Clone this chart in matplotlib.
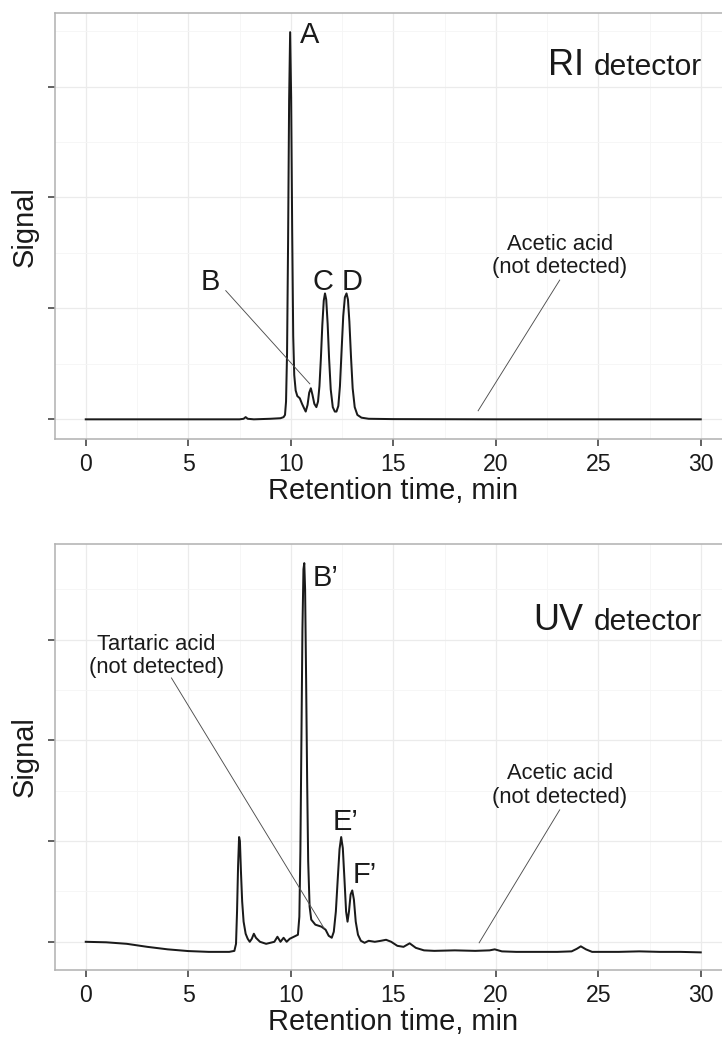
import matplotlib
matplotlib.use('Agg')
import matplotlib.pyplot as plt
from matplotlib.ticker import MultipleLocator
from matplotlib.transforms import blended_transform_factory, IdentityTransform

plt.rcParams['font.family'] = ['Liberation Sans', 'DejaVu Sans']

# RI detector trace (retention time in min, signal in arbitrary units)
ri_time = [0, 7.5, 7.7, 7.8, 7.9, 8.2, 9.0, 9.5, 9.65, 9.72, 9.77, 9.82, 9.87, 9.92, 9.97,
           10.02, 10.07, 10.12, 10.17, 10.24, 10.32, 10.44, 10.55, 10.65, 10.73, 10.82, 10.9,
           10.98, 11.06, 11.15, 11.25, 11.33, 11.4, 11.47, 11.54, 11.61, 11.67, 11.73, 11.8,
           11.87, 11.95, 12.05, 12.15, 12.23, 12.32, 12.4, 12.48, 12.56, 12.64, 12.72, 12.79,
           12.86, 12.94, 13.02, 13.12, 13.25, 13.45, 13.8, 15, 20, 25, 30]
ri_signal = [0, 0, 0.005, 0.02, 0.005, 0, 0.005, 0.01, 0.02, 0.04, 0.16, 0.6, 1.6, 2.87, 3.49,
             2.9, 1.7, 0.75, 0.4, 0.26, 0.21, 0.19, 0.14, 0.1, 0.07, 0.13, 0.24,
             0.28, 0.22, 0.14, 0.11, 0.16, 0.3, 0.55, 0.85, 1.07, 1.135, 1.08, 0.86,
             0.55, 0.27, 0.11, 0.07, 0.07, 0.12, 0.3, 0.62, 0.93, 1.1, 1.135, 1.08,
             0.88, 0.56, 0.28, 0.11, 0.04, 0.015, 0.005, 0.002, 0, 0, 0]

# UV detector trace
uv_time = [0, 1, 2, 3, 4, 5, 6, 7, 7.25, 7.33, 7.38, 7.43, 7.48, 7.52, 7.57, 7.63, 7.7, 7.8,
           7.9, 8.0, 8.1, 8.2, 8.3, 8.5, 8.8, 9.0, 9.2, 9.35, 9.5, 9.65, 9.8, 9.95, 10.15,
           10.35, 10.42, 10.47, 10.52, 10.57, 10.62, 10.66, 10.7, 10.75, 10.8, 10.85, 10.92,
           11.0, 11.2, 11.5, 11.7, 11.85, 12.0, 12.1, 12.2, 12.3, 12.38, 12.46, 12.54, 12.62,
           12.7, 12.77, 12.84, 12.92, 13.0, 13.08, 13.17, 13.28, 13.42, 13.6, 13.8, 14.1,
           14.4, 14.65, 14.9, 15.2, 15.5, 15.8, 16.1, 16.5, 17, 18, 19, 19.7, 19.95, 20.3,
           21, 22, 23, 23.7, 23.95, 24.15, 24.4, 24.7, 25, 26, 27, 28, 29, 30]
uv_signal = [0, -0.005, -0.02, -0.05, -0.075, -0.092, -0.1, -0.1, -0.09, -0.02, 0.3, 0.75,
             1.04, 1.0, 0.7, 0.4, 0.2, 0.08, 0.03, 0.0, 0.03, 0.08, 0.04, 0.0, -0.02, -0.01,
             0.0, 0.05, 0.0, 0.04, 0.0, 0.03, 0.05, 0.07, 0.25, 0.9, 2.0, 3.1, 3.7, 3.76, 3.5,
             2.6, 1.6, 0.8, 0.35, 0.22, 0.17, 0.15, 0.12, 0.06, 0.04, 0.1, 0.3, 0.65, 0.92,
             1.04, 0.93, 0.62, 0.3, 0.2, 0.3, 0.47, 0.51, 0.42, 0.2, 0.07, 0.01, -0.01, 0.01,
             0.0, 0.01, 0.02, 0.0, -0.04, -0.05, -0.015, -0.06, -0.085, -0.09, -0.085, -0.09,
             -0.085, -0.075, -0.095, -0.1, -0.1, -0.1, -0.095, -0.07, -0.045, -0.075, -0.1,
             -0.1, -0.1, -0.095, -0.1, -0.1, -0.105]

x_ticks = [0, 5, 10, 15, 20, 25, 30]
y_ticks = [0, 1, 2, 3]

W, H = 722, 1040
fig = plt.figure(figsize=(W / 72, H / 72), dpi=72)


def px_axes(left, top, right, bottom):
    # axes placed in pixel coords (right edge runs past the figure, as in the original)
    return fig.add_axes([left / W, 1 - bottom / H, (right - left) / W, (bottom - top) / H])


def style(ax, ylim):
    ax.set_xlim(-1.5, 31.5)
    ax.set_ylim(*ylim)
    ax.set_xticks(x_ticks)
    ax.set_yticks(y_ticks)
    ax.set_yticklabels([])
    ax.xaxis.set_minor_locator(MultipleLocator(2.5))
    ax.yaxis.set_minor_locator(MultipleLocator(0.5))
    ax.set_axisbelow(True)
    ax.grid(which='major', color='#EBEBEB', lw=1.3)
    ax.grid(which='minor', color='#F5F5F5', lw=0.9)
    ax.tick_params(which='major', length=7, width=1.5, color='#333333',
                   labelsize=23, pad=7, labelcolor='#1a1a1a')
    ax.tick_params(which='minor', length=0)
    for s in ax.spines.values():
        s.set_color('#B3B3B3')
        s.set_linewidth(1.6)
    ax.set_xlabel('Retention time, min', fontsize=29, labelpad=1, color='#1a1a1a')
    ax.set_ylabel('Signal', fontsize=29, labelpad=2, color='#1a1a1a')


def detector_title(ax, big, y):
    det = ax.text(30.05, y, 'detector', fontsize=30, ha='right', va='baseline', color='#1a1a1a')
    fig.canvas.draw()
    x0 = det.get_window_extent().x0
    tr = blended_transform_factory(IdentityTransform(), ax.transData)
    ax.text(x0 - 10, y, big, transform=tr, fontsize=36, ha='right', va='baseline',
            color='#1a1a1a')


note_kw = dict(fontsize=22, ha='center', va='bottom', linespacing=1.15, color='#1a1a1a')
line_kw = dict(color='#4d4d4d', lw=0.9)
peak_kw = dict(fontsize=29, va='baseline', color='#1a1a1a')

# ---- RI panel
ax1 = px_axes(55, 13.3, 731.5, 439.3)
style(ax1, (-0.18, 3.66))
ax1.plot(ri_time, ri_signal, color='#1a1a1a', lw=2.0)
ax1.text(10.93, 3.39, 'A', ha='center', **peak_kw)
ax1.text(6.1, 1.165, 'B', ha='center', **peak_kw)
ax1.text(11.55, 1.165, 'C', ha='center', **peak_kw)
ax1.text(13.0, 1.165, 'D', ha='center', **peak_kw)
ax1.plot([6.83, 10.93], [1.16, 0.32], **line_kw)
ax1.text(23.12, 1.27, 'Acetic acid\n(not detected)', **note_kw)
ax1.plot([23.12, 19.14], [1.255, 0.077], **line_kw)
detector_title(ax1, 'RI', 3.10)

# ---- UV panel
ax2 = px_axes(55, 544, 731.5, 970)
style(ax2, (-0.28, 3.95))
ax2.plot(uv_time, uv_signal, color='#1a1a1a', lw=2.0)
ax2.text(11.06, 3.53, 'B\u2019', ha='left', **peak_kw)
ax2.text(12.05, 1.11, 'E\u2019', ha='left', **peak_kw)
ax2.text(13.02, 0.584, 'F\u2019', ha='left', **peak_kw)
ax2.text(3.46, 2.62, 'Tartaric acid\n(not detected)', **note_kw)
ax2.plot([4.18, 11.63], [2.62, 0.133], **line_kw)
ax2.text(23.12, 1.33, 'Acetic acid\n(not detected)', **note_kw)
ax2.plot([23.12, 19.19], [1.31, -0.01], **line_kw)
detector_title(ax2, 'UV', 3.10)

fig.savefig('out.png', dpi=72)
